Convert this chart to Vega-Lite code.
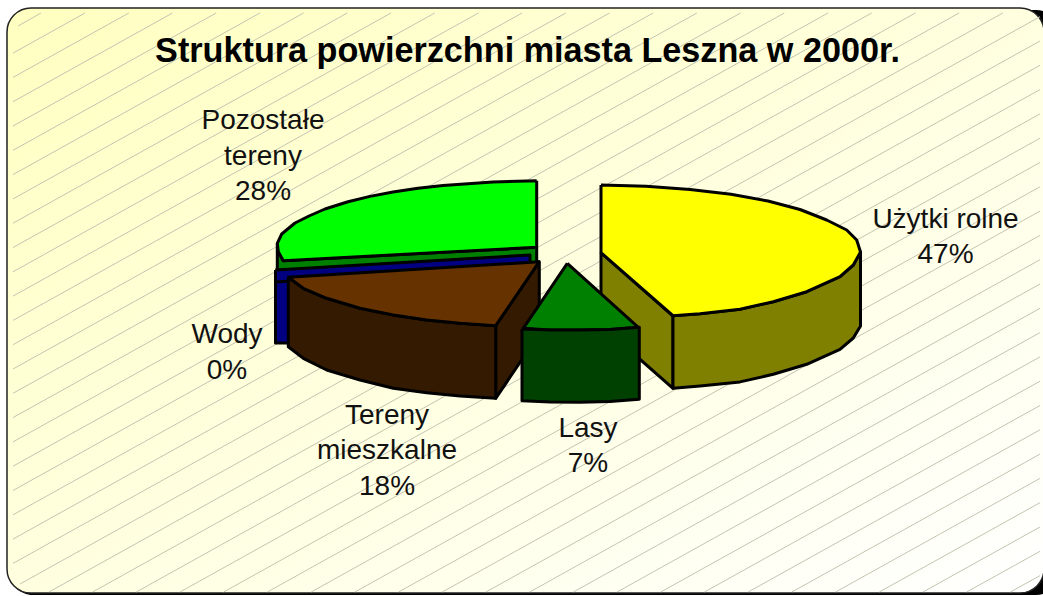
{"$schema":"https://vega.github.io/schema/vega-lite/v6.json","width":1043,"height":596,"padding":0,"autosize":"none","background":"white","config":{"view":{"stroke":null}},
"datasets":{
"shadow":[{"x":9,"y":10,"x2":1060,"y2":595}],
"frame":[{"x":7,"y":8,"x2":1044,"y2":593}],
"hatch":[{"x":18,"y":26,"x2":41,"y2":13},{"x":13,"y":53.1,"x2":85,"y2":13},{"x":13,"y":77.4,"x2":128.8,"y2":13},{"x":13,"y":101.7,"x2":172.5,"y2":13},{"x":13,"y":126,"x2":216.2,"y2":13},{"x":13,"y":150.3,"x2":259.9,"y2":13},{"x":13,"y":174.6,"x2":303.6,"y2":13},{"x":13,"y":198.9,"x2":347.3,"y2":13},{"x":13,"y":223.2,"x2":391,"y2":13},{"x":13,"y":247.5,"x2":434.7,"y2":13},{"x":13,"y":271.8,"x2":478.4,"y2":13},{"x":13,"y":296.1,"x2":522.1,"y2":13},{"x":13,"y":320.4,"x2":565.8,"y2":13},{"x":13,"y":344.7,"x2":609.5,"y2":13},{"x":13,"y":369,"x2":653.2,"y2":13},{"x":13,"y":393.3,"x2":696.9,"y2":13},{"x":13,"y":417.6,"x2":740.6,"y2":13},{"x":13,"y":441.9,"x2":784.3,"y2":13},{"x":13,"y":466.2,"x2":828,"y2":13},{"x":13,"y":490.5,"x2":871.7,"y2":13},{"x":13,"y":514.8,"x2":915.4,"y2":13},{"x":13,"y":539.1,"x2":959.1,"y2":13},{"x":13,"y":563.4,"x2":1002.8,"y2":13},{"x":20,"y":584,"x2":1040,"y2":16.7},{"x":49,"y":592,"x2":1040,"y2":41},{"x":92.6,"y":592,"x2":1040,"y2":65.3},{"x":136.3,"y":592,"x2":1040,"y2":89.6},{"x":180,"y":592,"x2":1040,"y2":113.9},{"x":223.7,"y":592,"x2":1040,"y2":138.2},{"x":267.4,"y":592,"x2":1040,"y2":162.5},{"x":311.2,"y":592,"x2":1040,"y2":186.8},{"x":354.9,"y":592,"x2":1040,"y2":211.1},{"x":398.6,"y":592,"x2":1040,"y2":235.4},{"x":442.3,"y":592,"x2":1040,"y2":259.7},{"x":486,"y":592,"x2":1040,"y2":284},{"x":529.7,"y":592,"x2":1040,"y2":308.3},{"x":573.4,"y":592,"x2":1040,"y2":332.6},{"x":617.1,"y":592,"x2":1040,"y2":356.9},{"x":660.8,"y":592,"x2":1040,"y2":381.2},{"x":704.5,"y":592,"x2":1040,"y2":405.5},{"x":748.2,"y":592,"x2":1040,"y2":429.8},{"x":791.9,"y":592,"x2":1040,"y2":454.1},{"x":835.6,"y":592,"x2":1040,"y2":478.4},{"x":879.3,"y":592,"x2":1040,"y2":502.7},{"x":923,"y":592,"x2":1040,"y2":527},{"x":966.7,"y":592,"x2":1040,"y2":551.3},{"x":1010.4,"y":592,"x2":1040,"y2":575.6}],
"faces":[
{"f":"a1","s":1,"x":601,"y":252.7},{"f":"a1","s":2,"x":673,"y":316},{"f":"a1","s":3,"x":673,"y":388.3},{"f":"a1","s":4,"x":601,"y":325},{"f":"a1","s":5,"x":601,"y":252.7},
{"f":"a2","s":1,"x":673,"y":315.7},{"f":"a2","s":2,"x":700,"y":313.7},{"f":"a2","s":3,"x":740,"y":309.3},{"f":"a2","s":4,"x":773.3,"y":301.7},{"f":"a2","s":5,"x":806.7,"y":291.7},{"f":"a2","s":6,"x":840,"y":276.7},{"f":"a2","s":7,"x":853.3,"y":265},{"f":"a2","s":8,"x":860.5,"y":252},{"f":"a2","s":9,"x":860.5,"y":326},{"f":"a2","s":10,"x":853.3,"y":338},{"f":"a2","s":11,"x":840,"y":349.3},{"f":"a2","s":12,"x":806.7,"y":364.3},{"f":"a2","s":13,"x":773.3,"y":374.3},{"f":"a2","s":14,"x":740,"y":381.9},{"f":"a2","s":15,"x":700,"y":386},{"f":"a2","s":16,"x":673,"y":388.3},{"f":"a2","s":17,"x":673,"y":315.7},
{"f":"a3","s":1,"x":601,"y":185},{"f":"a3","s":2,"x":646,"y":186.3},{"f":"a3","s":3,"x":690,"y":189.5},{"f":"a3","s":4,"x":731,"y":194.3},{"f":"a3","s":5,"x":768,"y":201},{"f":"a3","s":6,"x":800,"y":209.5},{"f":"a3","s":7,"x":826.7,"y":220},{"f":"a3","s":8,"x":846.7,"y":230},{"f":"a3","s":9,"x":856.7,"y":240},{"f":"a3","s":10,"x":860.5,"y":252},{"f":"a3","s":11,"x":853.3,"y":265},{"f":"a3","s":12,"x":840,"y":276.7},{"f":"a3","s":13,"x":806.7,"y":291.7},{"f":"a3","s":14,"x":773.3,"y":301.7},{"f":"a3","s":15,"x":740,"y":309.3},{"f":"a3","s":16,"x":700,"y":313.7},{"f":"a3","s":17,"x":673,"y":315.7},{"f":"a3","s":18,"x":601,"y":252.7},{"f":"a3","s":19,"x":601,"y":185},
{"f":"b1","s":1,"x":277.3,"y":243.3},{"f":"b1","s":2,"x":278.3,"y":251.7},{"f":"b1","s":3,"x":283.3,"y":260.7},{"f":"b1","s":4,"x":536.7,"y":247.3},{"f":"b1","s":5,"x":536.7,"y":275},{"f":"b1","s":6,"x":277.3,"y":285},{"f":"b1","s":7,"x":277.3,"y":243.3},
{"f":"b2","s":1,"x":536.7,"y":180.7},{"f":"b2","s":2,"x":493,"y":182},{"f":"b2","s":3,"x":443,"y":185.5},{"f":"b2","s":4,"x":418,"y":188.3},{"f":"b2","s":5,"x":393,"y":192},{"f":"b2","s":6,"x":370,"y":196.4},{"f":"b2","s":7,"x":348,"y":201.7},{"f":"b2","s":8,"x":325,"y":209},{"f":"b2","s":9,"x":309,"y":216},{"f":"b2","s":10,"x":295,"y":223},{"f":"b2","s":11,"x":281.7,"y":234},{"f":"b2","s":12,"x":277.3,"y":243.3},{"f":"b2","s":13,"x":278.3,"y":251.7},{"f":"b2","s":14,"x":283.3,"y":260.7},{"f":"b2","s":15,"x":536.7,"y":247.3},{"f":"b2","s":16,"x":536.7,"y":180.7},
{"f":"c1","s":1,"x":275.5,"y":270},{"f":"c1","s":2,"x":289,"y":270},{"f":"c1","s":3,"x":289,"y":343},{"f":"c1","s":4,"x":275.5,"y":343},{"f":"c1","s":5,"x":275.5,"y":270},
{"f":"c2","s":1,"x":275.5,"y":270},{"f":"c2","s":2,"x":530,"y":255},{"f":"c2","s":3,"x":530,"y":264},{"f":"c2","s":4,"x":275.5,"y":282},{"f":"c2","s":5,"x":275.5,"y":270},
{"f":"d1","s":1,"x":495.7,"y":325.7},{"f":"d1","s":2,"x":539.3,"y":261.7},{"f":"d1","s":3,"x":539.3,"y":334},{"f":"d1","s":4,"x":495.7,"y":398.3},{"f":"d1","s":5,"x":495.7,"y":325.7},
{"f":"d2","s":1,"x":288.3,"y":277.3},{"f":"d2","s":2,"x":303.3,"y":288.3},{"f":"d2","s":3,"x":326.7,"y":298.3},{"f":"d2","s":4,"x":360,"y":308.3},{"f":"d2","s":5,"x":393.3,"y":315},{"f":"d2","s":6,"x":426.7,"y":320},{"f":"d2","s":7,"x":460,"y":323.3},{"f":"d2","s":8,"x":495.7,"y":325.7},{"f":"d2","s":9,"x":495.7,"y":398.3},{"f":"d2","s":10,"x":460,"y":396},{"f":"d2","s":11,"x":426.7,"y":392.7},{"f":"d2","s":12,"x":393.3,"y":388.3},{"f":"d2","s":13,"x":360,"y":380},{"f":"d2","s":14,"x":326.7,"y":370},{"f":"d2","s":15,"x":303.3,"y":358.3},{"f":"d2","s":16,"x":288.3,"y":346.7},{"f":"d2","s":17,"x":288.3,"y":277.3},
{"f":"d3","s":1,"x":539.3,"y":261.7},{"f":"d3","s":2,"x":288.3,"y":277.3},{"f":"d3","s":3,"x":303.3,"y":288.3},{"f":"d3","s":4,"x":326.7,"y":298.3},{"f":"d3","s":5,"x":360,"y":308.3},{"f":"d3","s":6,"x":393.3,"y":315},{"f":"d3","s":7,"x":426.7,"y":320},{"f":"d3","s":8,"x":460,"y":323.3},{"f":"d3","s":9,"x":495.7,"y":325.7},{"f":"d3","s":10,"x":539.3,"y":261.7},
{"f":"e1","s":1,"x":567.3,"y":263.3},{"f":"e1","s":2,"x":638.3,"y":327.3},{"f":"e1","s":3,"x":610,"y":329.5},{"f":"e1","s":4,"x":580,"y":330},{"f":"e1","s":5,"x":550,"y":330},{"f":"e1","s":6,"x":523.3,"y":328.3},{"f":"e1","s":7,"x":567.3,"y":263.3},
{"f":"e2","s":1,"x":522,"y":329},{"f":"e2","s":2,"x":550,"y":330},{"f":"e2","s":3,"x":580,"y":330},{"f":"e2","s":4,"x":610,"y":329.5},{"f":"e2","s":5,"x":639.3,"y":327.3},{"f":"e2","s":6,"x":639.3,"y":399.3},{"f":"e2","s":7,"x":610,"y":401.5},{"f":"e2","s":8,"x":580,"y":402.3},{"f":"e2","s":9,"x":550,"y":402},{"f":"e2","s":10,"x":522,"y":400.7},{"f":"e2","s":11,"x":522,"y":329}],
"labels":[{"t":"Pozostałe","x":263,"y":129},{"t":"tereny","x":263,"y":164.5},{"t":"28%","x":263,"y":200},{"t":"Użytki rolne","x":945.5,"y":228},{"t":"47%","x":945.5,"y":263},{"t":"Wody","x":227,"y":342.5},{"t":"0%","x":227,"y":378.5},{"t":"Tereny","x":387,"y":423.5},{"t":"mieszkalne","x":387,"y":459},{"t":"18%","x":387,"y":495},{"t":"Lasy","x":588,"y":436.5},{"t":"7%","x":588,"y":471.5}],
"title":[{"t":"Struktura powierzchni miasta Leszna w 2000r.","x":527.5,"y":62}]
},
"layer":[
{"data":{"name":"shadow"},"mark":{"type":"rect","fill":"black","cornerRadius":24,"clip":true},"encoding":{"x":{"field":"x","type":"quantitative","scale":{"domain":[0,1043],"nice":false,"zero":false},"axis":null},"x2":{"field":"x2"},"y":{"field":"y","type":"quantitative","scale":{"domain":[596,0],"nice":false,"zero":false},"axis":null},"y2":{"field":"y2"}}},
{"data":{"name":"frame"},"mark":{"type":"rect","cornerRadius":24,"stroke":"#222222","strokeWidth":1.5,"clip":true,"fill":{"gradient":"linear","x1":0,"y1":0,"x2":1,"y2":1,"stops":[{"offset":0,"color":"#FFFFC0"},{"offset":1,"color":"#FFFFFF"}]}},"encoding":{"x":{"field":"x","type":"quantitative","scale":{"domain":[0,1043],"nice":false,"zero":false},"axis":null},"x2":{"field":"x2"},"y":{"field":"y","type":"quantitative","scale":{"domain":[596,0],"nice":false,"zero":false},"axis":null},"y2":{"field":"y2"}}},
{"data":{"name":"hatch"},"mark":{"type":"rule","stroke":"#c4c4b2","strokeWidth":1},"encoding":{"x":{"field":"x","type":"quantitative","scale":{"domain":[0,1043],"nice":false,"zero":false},"axis":null},"x2":{"field":"x2"},"y":{"field":"y","type":"quantitative","scale":{"domain":[596,0],"nice":false,"zero":false},"axis":null},"y2":{"field":"y2"}}},
{"data":{"name":"faces"},"mark":{"type":"line","stroke":"black","strokeWidth":3,"strokeJoin":"round"},"encoding":{"x":{"field":"x","type":"quantitative","scale":{"domain":[0,1043],"nice":false,"zero":false},"axis":null},"y":{"field":"y","type":"quantitative","scale":{"domain":[596,0],"nice":false,"zero":false},"axis":null},"order":{"field":"s","type":"quantitative"},"detail":{"field":"f"},"fill":{"field":"f","type":"nominal","legend":null,"scale":{"domain":["a1","a2","a3","b1","b2","c1","c2","d1","d2","d3","e1","e2"],"range":["#808000","#808000","#FFFF00","#008000","#00FF00","#000080","#000080","#331A00","#331A00","#663300","#008000","#004000"]}}}},
{"data":{"name":"labels"},"mark":{"type":"text","font":"Liberation Sans","fontSize":28,"align":"center","baseline":"alphabetic","color":"#111111"},"encoding":{"x":{"field":"x","type":"quantitative","scale":{"domain":[0,1043],"nice":false,"zero":false},"axis":null},"y":{"field":"y","type":"quantitative","scale":{"domain":[596,0],"nice":false,"zero":false},"axis":null},"text":{"field":"t"}}},
{"data":{"name":"title"},"mark":{"type":"text","font":"Liberation Sans","fontSize":34.2,"fontWeight":"bold","align":"center","baseline":"alphabetic","color":"black"},"encoding":{"x":{"field":"x","type":"quantitative","scale":{"domain":[0,1043],"nice":false,"zero":false},"axis":null},"y":{"field":"y","type":"quantitative","scale":{"domain":[596,0],"nice":false,"zero":false},"axis":null},"text":{"field":"t"}}}
]}
